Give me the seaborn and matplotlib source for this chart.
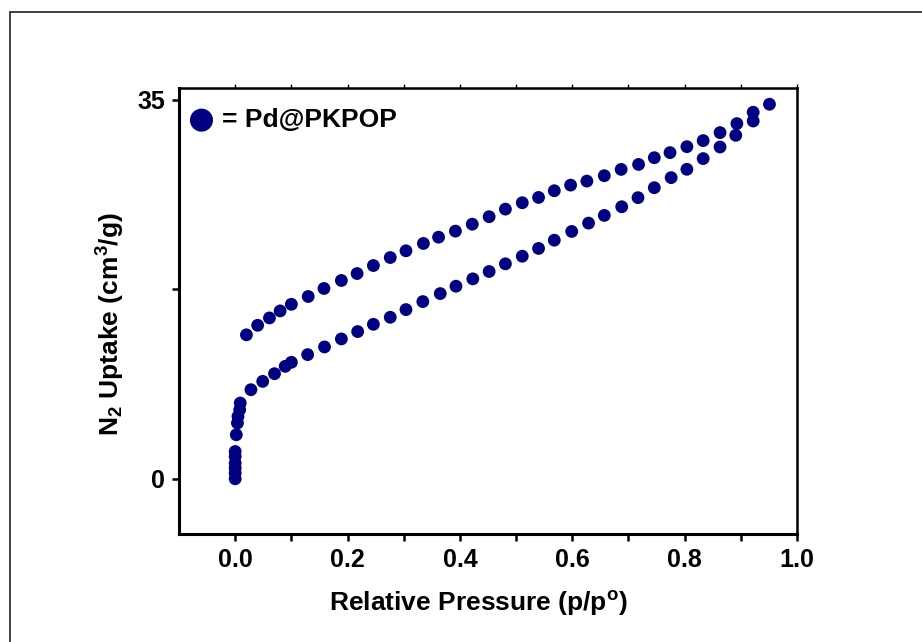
import numpy as np
import pandas as pd
import matplotlib
matplotlib.use("Agg")
import matplotlib.pyplot as plt
import seaborn as sns
from matplotlib.patches import Rectangle

# ---- data ----
ads_p = [0.000, 0.000, 0.000, 0.000, 0.000, 0.000, 0.002, 0.004, 0.005, 0.008, 0.009,
         0.028, 0.049, 0.070, 0.089, 0.100, 0.129, 0.159, 0.189, 0.218, 0.246, 0.276,
         0.304, 0.334, 0.365, 0.393, 0.423, 0.452, 0.481, 0.511, 0.540, 0.568, 0.599,
         0.629, 0.657, 0.688, 0.717, 0.746, 0.776, 0.804, 0.833, 0.863, 0.891, 0.922, 0.951]
ads_v = [0.00, 0.53, 0.99, 1.45, 2.06, 2.52, 4.07, 5.15, 5.76, 6.38, 7.00,
         8.23, 9.00, 9.71, 10.39, 10.76, 11.47, 12.18, 12.92, 13.60, 14.27, 14.92,
         15.63, 16.37, 17.11, 17.79, 18.47, 19.15, 19.86, 20.56, 21.28, 22.04, 22.85,
         23.62, 24.33, 25.13, 25.97, 26.89, 27.82, 28.59, 29.58, 30.65, 31.73, 33.05, 34.60]
des_p = [0.922, 0.893, 0.863, 0.833, 0.804, 0.774, 0.746, 0.718, 0.687, 0.657, 0.626,
         0.597, 0.568, 0.540, 0.511, 0.481, 0.452, 0.422, 0.392, 0.362, 0.335, 0.304,
         0.276, 0.246, 0.217, 0.189, 0.158, 0.130, 0.100, 0.080, 0.061, 0.040, 0.020]
des_v = [33.86, 32.81, 31.98, 31.24, 30.68, 30.13, 29.66, 29.04, 28.58, 28.00, 27.50,
         27.13, 26.61, 25.99, 25.50, 24.91, 24.21, 23.52, 22.88, 22.32, 21.74, 21.06,
         20.44, 19.70, 18.96, 18.32, 17.58, 16.84, 16.12, 15.51, 14.86, 14.18, 13.30]

series_label = "= Pd@PKPOP"
x_label = "Relative Pressure (p/p$^{o}$)"
y_label = "N$_2$ Uptake (cm$^3$/g)"
x_ticks = [0.0, 0.2, 0.4, 0.6, 0.8, 1.0]
y_ticks = [0, 35]

df = pd.DataFrame({"p": ads_p + des_p, "v": ads_v + des_v})

sns.set_theme(style="white")
plt.rcParams["font.family"] = ["Liberation Sans", "DejaVu Sans"]
plt.rcParams["font.weight"] = "bold"
plt.rcParams["text.color"] = "black"
plt.rcParams["axes.labelcolor"] = "black"
plt.rcParams["xtick.color"] = "black"
plt.rcParams["ytick.color"] = "black"
plt.rcParams["mathtext.fontset"] = "custom"
plt.rcParams["mathtext.rm"] = "Liberation Sans:bold"
plt.rcParams["mathtext.bf"] = "Liberation Sans:bold"
plt.rcParams["mathtext.it"] = "Liberation Sans:bold"
plt.rcParams["mathtext.default"] = "rm"

fig = plt.figure(figsize=(9.22, 6.42), dpi=100)
W, H = 922, 642
ax = fig.add_axes([179 / W, 1 - 534 / H, (797 - 179) / W, (534 - 88) / H])

color = "#000080"
sns.scatterplot(data=df, x="p", y="v", ax=ax, color=color, s=85,
                edgecolor="none", linewidth=0, label=series_label, zorder=3)

ax.set_xlim(-0.1, 1.0)
ax.set_ylim(-5.1, 36.1)
ax.set_xticks(x_ticks)
ax.set_xticklabels([f"{t:.1f}" for t in x_ticks])
ax.set_xticks([0.1, 0.3, 0.5, 0.7, 0.9], minor=True)
ax.set_yticks(y_ticks)
ax.set_yticklabels([str(t) for t in y_ticks])
ax.set_yticks([17.5], minor=True)

for s in ax.spines.values():
    s.set_linewidth(2.2)
    s.set_color("black")
ax.spines["top"].set_linewidth(1.8)
ax.spines["right"].set_linewidth(1.8)

ax.tick_params(axis="both", which="both", direction="out", length=5, width=1.8,
               color="black", labelsize=18, pad=5, labelcolor="black")
ax.tick_params(axis="x", which="both", bottom=True, top=False)
ax.tick_params(axis="y", which="both", left=True, right=False)
for lab in ax.get_xticklabels() + ax.get_yticklabels():
    lab.set_fontweight("bold")

sec = ax.secondary_xaxis("top")
sec.set_xticks(np.round(np.arange(0.0, 1.01, 0.1), 1))
sec.tick_params(direction="out", length=3, width=1, labeltop=False, color="black")
sec.spines["top"].set_visible(False)

ax.set_xlabel(x_label, fontsize=19, fontweight="bold", color="black")
ax.set_ylabel(y_label, fontsize=19, fontweight="bold", color="black")
ax.xaxis.set_label_coords(0.485, -0.123)
ax.yaxis.set_label_coords(-0.084, 0.471)

leg = ax.legend(loc="upper left", bbox_to_anchor=(0.015, 0.955), frameon=False,
                markerscale=1.8, handlelength=1.0, handletextpad=0.28,
                borderaxespad=0, borderpad=0,
                prop={"family": "Liberation Sans", "weight": "bold", "size": 19})
for t in leg.get_texts():
    t.set_color("black")

# outer frame of the figure
fig.patches.append(Rectangle((9.5 / W, -0.1), 1.2, (1 - 12 / H) + 0.1,
                             transform=fig.transFigure, fill=False,
                             edgecolor="#333333", linewidth=1.3))

fig.savefig("out.png", dpi=100)
